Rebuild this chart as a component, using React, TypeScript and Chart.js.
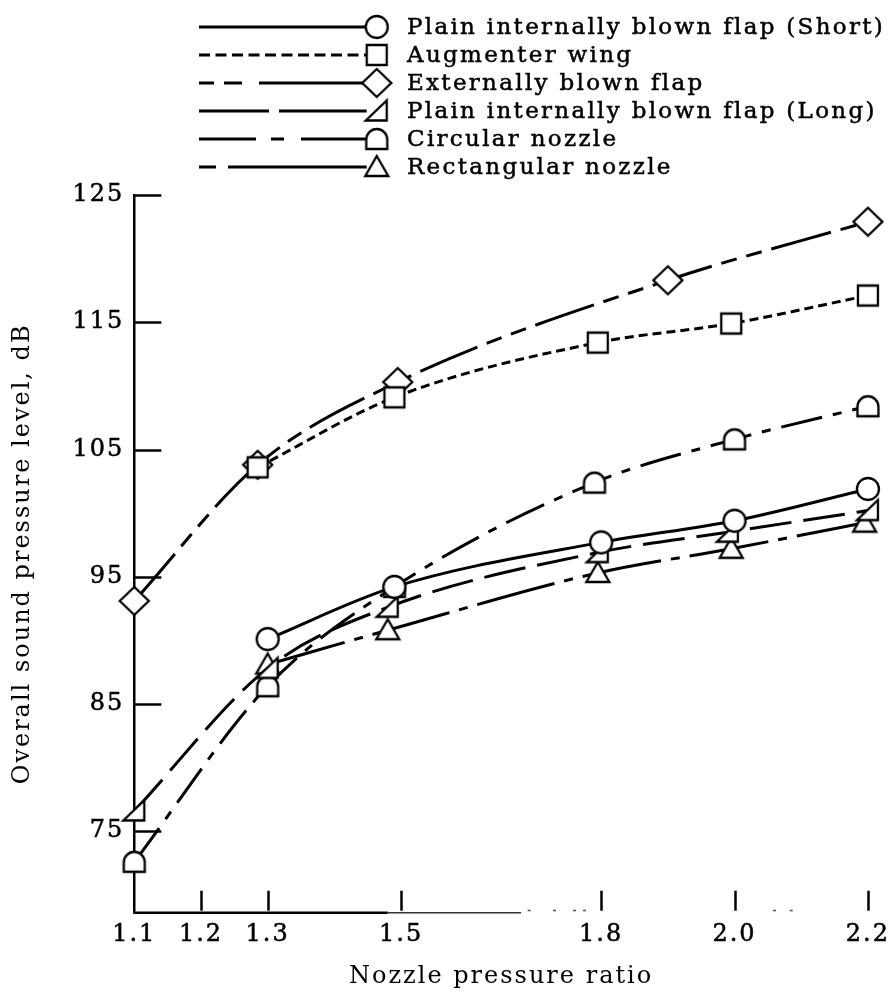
import React, { useEffect, useRef } from 'react';
import { Chart, registerables } from 'chart.js';

Chart.register(...registerables);

// ---- data ----
const seriesNames = [
  'Plain internally blown flap (Short)',
  'Augmenter wing',
  'Externally blown flap',
  'Plain internally blown flap (Long)',
  'Circular nozzle',
  'Rectangular nozzle',
];
const shortX = [1.3, 1.49, 1.8, 2.0, 2.2];
const shortY = [90.1, 94.2, 97.7, 99.4, 101.9];
const augX = [1.285, 1.49, 1.795, 1.995, 2.2];
const augY = [103.6, 109.1, 113.4, 114.9, 117.1];
const ebfX = [1.1, 1.285, 1.495, 1.9, 2.2];
const ebfY = [93.1, 103.8, 110.3, 118.3, 122.9];
const longX = [1.1, 1.3, 1.48, 1.795, 1.99, 2.2];
const longY = [76.6, 87.8, 92.6, 96.9, 98.5, 100.2];
const circX = [1.1, 1.3, 1.49, 1.79, 2.0, 2.2];
const circY = [72.6, 86.4, 94.2, 102.4, 105.8, 108.4];
const rectX = [1.3, 1.48, 1.795, 1.995, 2.195];
const rectY = [88.1, 90.8, 95.3, 97.2, 99.25];
const xTicks = [1.1, 1.2, 1.3, 1.5, 1.8, 2.0, 2.2];
const yTicks = [75, 85, 95, 105, 115, 125];

// ---- styles ----
const FONT = "'DejaVu Serif', serif";
const markerKinds = ['circle', 'square', 'diamond', 'rightTri', 'dome', 'tri'];
const chartDash = [[], [9, 5], [62, 10, 16, 10, 16, 10], [42, 12], [42, 11, 9, 11], [80, 10, 9, 10]];
const legendDash = [[], [11, 5.5], [15, 10, 18, 17, 400], [70, 10, 400], [57, 15, 13, 17, 400], [17, 12, 400]];

function makeMarker(kind: string): HTMLCanvasElement {
  const c = document.createElement('canvas');
  c.width = 36;
  c.height = 36;
  const g = c.getContext('2d')!;
  g.translate(18, 18);
  g.lineWidth = 2.3;
  g.strokeStyle = '#000';
  g.fillStyle = '#fff';
  g.lineJoin = 'miter';
  g.beginPath();
  if (kind === 'circle') {
    g.arc(0, 0, 11, 0, Math.PI * 2);
  } else if (kind === 'square') {
    g.rect(-10, -10, 20, 20);
  } else if (kind === 'diamond') {
    g.moveTo(0, -14);
    g.lineTo(14.5, 0);
    g.lineTo(0, 14);
    g.lineTo(-14.5, 0);
    g.closePath();
  } else if (kind === 'rightTri') {
    g.moveTo(-11, 9.5);
    g.lineTo(10, 9.5);
    g.lineTo(10, -10.5);
    g.closePath();
  } else if (kind === 'dome') {
    g.moveTo(-10.5, 10);
    g.lineTo(-10.5, 0.5);
    g.arc(0, 0.5, 10.5, Math.PI, 0);
    g.lineTo(10.5, 10);
    g.closePath();
  } else {
    g.moveTo(0, -11);
    g.lineTo(11.5, 9);
    g.lineTo(-11.5, 9);
    g.closePath();
  }
  g.fill();
  g.stroke();
  return c;
}

export default function App() {
  const ref = useRef<HTMLCanvasElement>(null);

  useEffect(() => {
    const markers = markerKinds.map(makeMarker);
    const xs = [shortX, augX, ebfX, longX, circX, rectX];
    const ys = [shortY, augY, ebfY, longY, circY, rectY];

    const datasets = seriesNames.map((name, i) => ({
      label: name,
      data: xs[i].map((x, j) => ({ x, y: ys[i][j] })),
      borderColor: '#000',
      borderWidth: 3,
      borderDash: chartDash[i],
      borderCapStyle: 'butt' as const,
      cubicInterpolationMode: 'monotone' as const,
      pointStyle: markers[i],
      pointRadius: 10,
      clip: false as const,
      fill: false,
    }));

    const decor = {
      id: 'decor',
      beforeDraw(chart: any) {
        chart.ctx.letterSpacing = '2px';
      },
      beforeDatasetsDraw(chart: any) {
        const { ctx, chartArea, scales } = chart;
        const sx = scales.x;
        const sy = scales.y;
        ctx.save();
        ctx.strokeStyle = '#000';
        // inward y ticks
        ctx.lineWidth = 2.5;
        yTicks.forEach((v) => {
          const y = Math.round(sy.getPixelForValue(v)) + 0.5;
          ctx.beginPath();
          ctx.moveTo(chartArea.left, y);
          ctx.lineTo(chartArea.left + 27, y);
          ctx.stroke();
        });
        // x axis (partly faded in the original)
        const yb = chartArea.bottom;
        ctx.lineWidth = 2.5;
        ctx.beginPath();
        ctx.moveTo(chartArea.left - 1, yb);
        ctx.lineTo(sx.getPixelForValue(1.48), yb);
        ctx.stroke();
        ctx.lineWidth = 1.6;
        ctx.strokeStyle = '#333';
        ctx.beginPath();
        ctx.moveTo(sx.getPixelForValue(1.48), yb);
        ctx.lineTo(sx.getPixelForValue(1.68), yb);
        ctx.stroke();
        ctx.fillStyle = '#555';
        [1.692, 1.73, 1.76, 1.775, 2.06, 2.085].forEach((v) => {
          ctx.fillRect(sx.getPixelForValue(v) - 1.5, yb - 3, 3, 1.6);
        });
        // upward x ticks
        ctx.strokeStyle = '#000';
        ctx.lineWidth = 2.5;
        xTicks.slice(1).forEach((v) => {
          const x = Math.round(sx.getPixelForValue(v)) + 0.5;
          ctx.beginPath();
          ctx.moveTo(x, yb - 22);
          ctx.lineTo(x, yb - 2);
          ctx.stroke();
        });
        ctx.restore();
      },
      afterDraw(chart: any) {
        const { ctx } = chart;
        ctx.save();
        ctx.letterSpacing = '2.3px';
        ctx.font = `23px ${FONT}`;
        ctx.fillStyle = '#000';
        ctx.textBaseline = 'middle';
        const mx = 376.7;
        seriesNames.forEach((name, i) => {
          const y = 27 + i * 28;
          ctx.strokeStyle = '#000';
          ctx.lineWidth = 3;
          ctx.setLineDash(legendDash[i]);
          ctx.beginPath();
          ctx.moveTo(199, y);
          ctx.lineTo(mx - 10, y);
          ctx.stroke();
          ctx.setLineDash([]);
          ctx.drawImage(markers[i], mx - 18, y - 18);
          ctx.lineWidth = 0.5;
          ctx.fillText(name, 407, y + 1);
          ctx.strokeText(name, 407, y + 1);
        });
        ctx.restore();
      },
    };

    const tickFont = { family: FONT, size: 24 };

    const chart = new Chart(ref.current!, {
      type: 'line',
      data: { datasets },
      options: {
        responsive: false,
        animation: false,
        events: [],
        layout: { padding: { left: 0, right: 26.7, top: 195, bottom: 0 } },
        plugins: { legend: { display: false }, tooltip: { enabled: false } },
        scales: {
          x: {
            type: 'linear',
            min: 1.1,
            max: 2.2,
            afterBuildTicks: (s: any) => {
              s.ticks = xTicks.map((v) => ({ value: v }));
            },
            afterFit: (s: any) => {
              s.height = 82.3;
            },
            grid: { display: false, drawTicks: false },
            border: { display: false },
            ticks: {
              padding: 8,
              color: '#000',
              textStrokeColor: '#000',
              textStrokeWidth: 0.5,
              autoSkip: false,
              maxRotation: 0,
              font: tickFont,
              callback: (v: any) => Number(v).toFixed(1),
            },
            title: {
              display: true,
              text: 'Nozzle pressure ratio',
              color: '#000',
              font: tickFont,
              padding: { top: 0, bottom: 4 },
            },
          },
          y: {
            type: 'linear',
            min: 68.6,
            max: 125,
            afterBuildTicks: (s: any) => {
              s.ticks = yTicks.map((v) => ({ value: v }));
            },
            afterFit: (s: any) => {
              s.width = 134.3;
            },
            grid: { display: false, drawTicks: false },
            border: { display: true, color: '#000', width: 2.5 },
            ticks: {
              padding: 10,
              color: '#000',
              textStrokeColor: '#000',
              textStrokeWidth: 0.5,
              font: tickFont,
              callback: (v: any) => String(v),
            },
            title: {
              display: true,
              text: 'Overall sound pressure level, dB',
              color: '#000',
              font: tickFont,
              padding: { top: 8, bottom: 0 },
            },
          },
        },
      },
      plugins: [decor],
    } as any);

    return () => chart.destroy();
  }, []);

  return (
    <div style={{ position: 'fixed', left: 0, top: 0, width: 895, height: 995, background: '#fff' }}>
      <canvas ref={ref} width={895} height={995} style={{ display: 'block' }} />
    </div>
  );
}
